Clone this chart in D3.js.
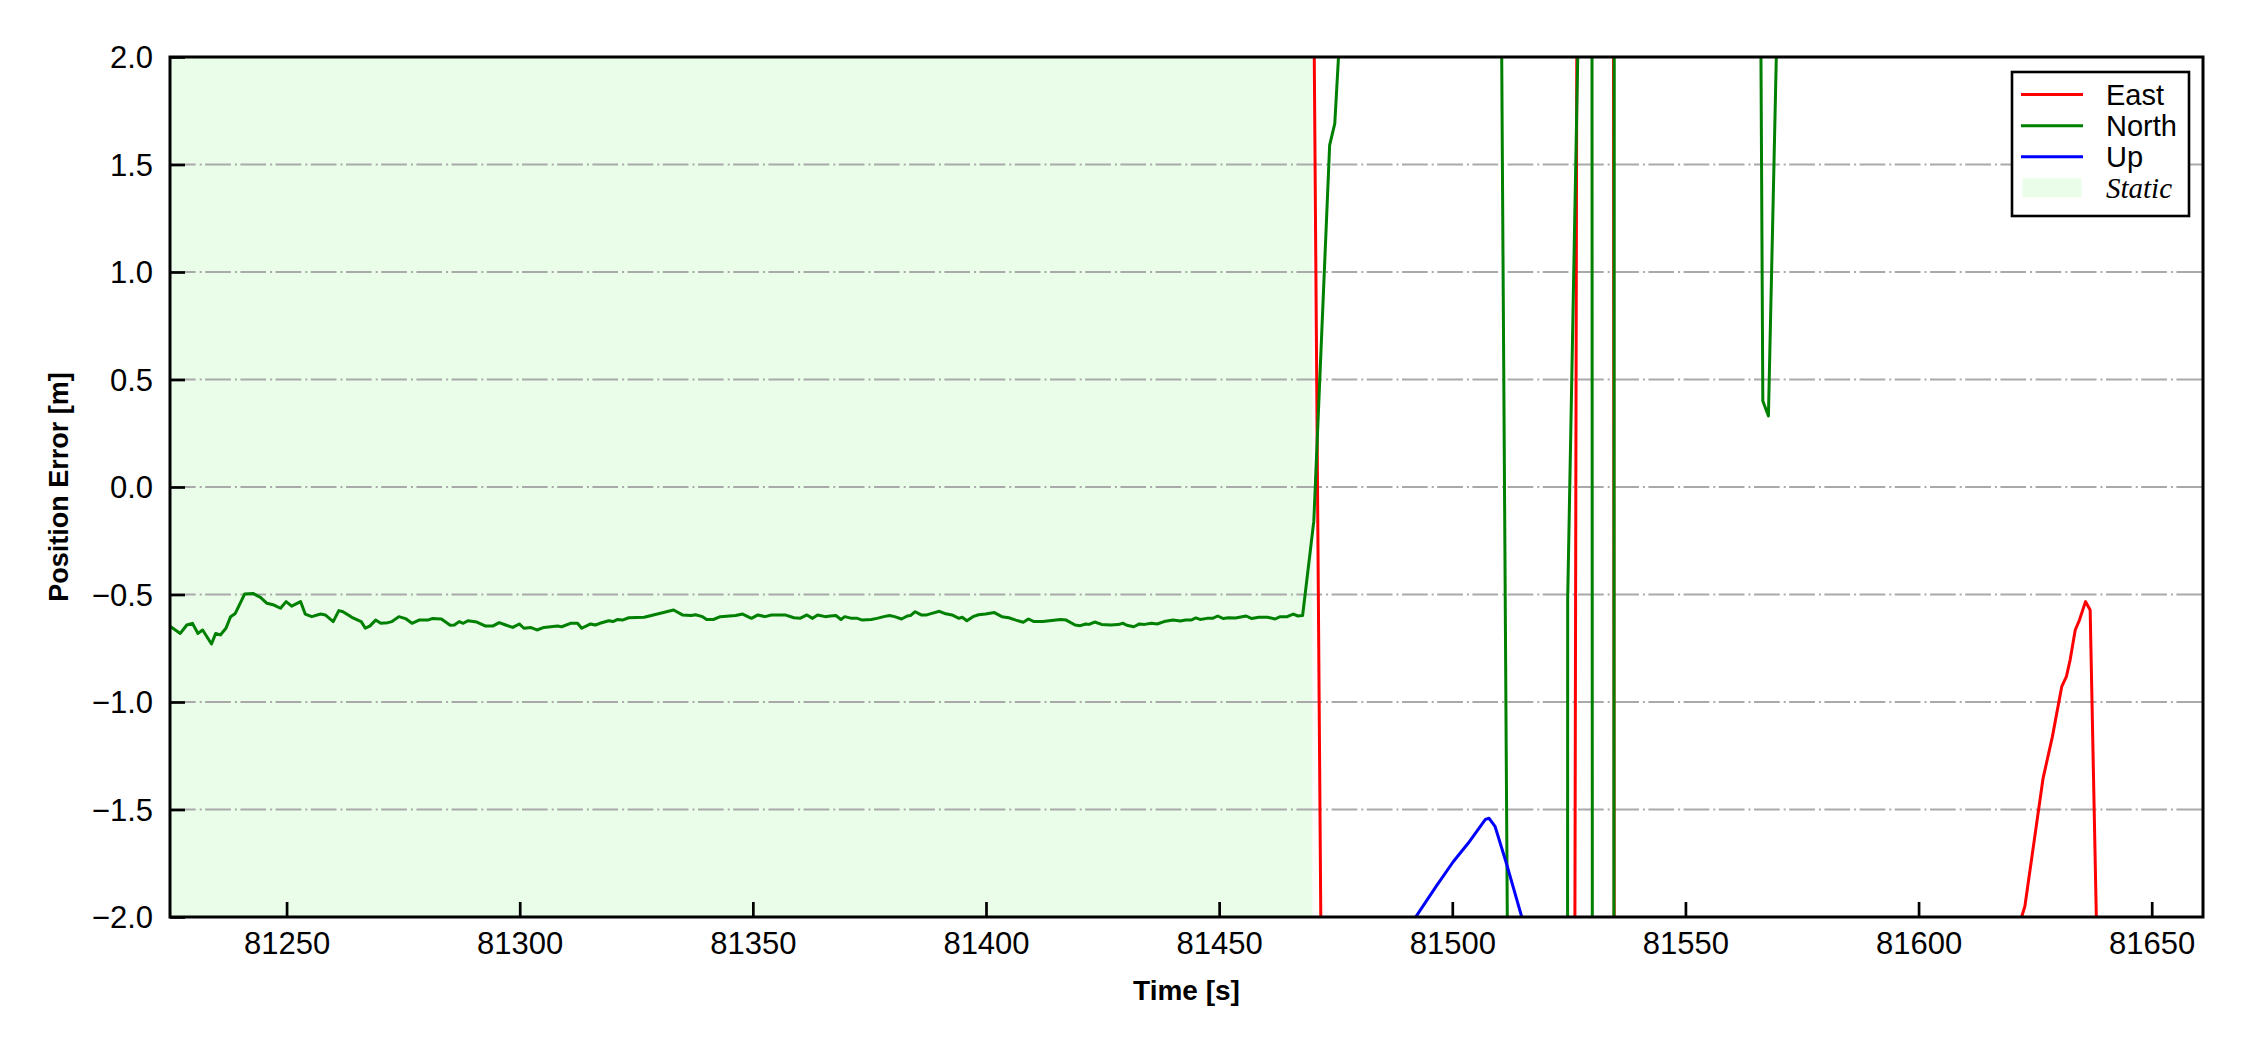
<!DOCTYPE html>
<html>
<head>
<meta charset="utf-8">
<script src="https://cdn.jsdelivr.net/npm/d3@7"></script>
<style>
  html, body { margin: 0; padding: 0; background: #ffffff; }
  svg { display: block; }
</style>
</head>
<body>
<svg id="chart" width="2250" height="1050"></svg>
<script>
// ---------------- data ----------------
const seriesNames = ["East", "North", "Up"];
const seriesColors = ["#ff0000", "#008000", "#0000ff"];
const staticLabel = "Static";
const staticRange = [81225, 81470];
const xDomain = [81225, 81661];
const yDomain = [-2, 2];
const xTicks = [81250, 81300, 81350, 81400, 81450, 81500, 81550, 81600, 81650];
const yTicks = [-2.0, -1.5, -1.0, -0.5, 0.0, 0.5, 1.0, 1.5, 2.0];
const xLabel = "Time [s]";
const yLabel = "Position Error [m]";

// [time s, error m]  (values outside ±2 are off-scale)
const eastData = [
  [81225, 5], [81470.0, 3.14], [81472.0, -2.57], [81526.2, -3.0], [81526.8, 3.0],
  [81534.55, 3.0], [81534.75, -3.0], [81620.0, -2.15], [81622.8, -1.95], [81626.7, -1.355],
  [81628.7, -1.161], [81630.7, -0.929], [81631.7, -0.882], [81632.5, -0.805], [81633.6, -0.665],
  [81634.5, -0.619], [81635.8, -0.533], [81636.8, -0.572], [81638.4, -2.3], [81661, -3]
];

const northData = [
  [81225.0,-0.647],[81227.2,-0.681],[81228.6,-0.642],[81229.8,-0.634],[81231.0,-0.681],[81232.0,-0.665],
  [81233.9,-0.730],[81234.8,-0.681],[81235.8,-0.688],[81237.0,-0.657],[81238.0,-0.603],[81239.0,-0.588],
  [81241.0,-0.498],[81242.8,-0.495],[81244.4,-0.513],[81245.8,-0.541],[81247.3,-0.549],[81248.7,-0.564],
  [81249.9,-0.533],[81251.1,-0.554],[81253.0,-0.533],[81254.0,-0.591],[81255.4,-0.603],[81257.3,-0.591],
  [81258.3,-0.595],[81260.0,-0.626],[81261.2,-0.575],[81262.1,-0.580],[81264.0,-0.606],[81266.0,-0.626],
  [81266.9,-0.657],[81267.9,-0.646],[81269.1,-0.619],[81270.2,-0.634],[81271.7,-0.631],[81272.6,-0.626],
  [81274.1,-0.603],[81275.5,-0.612],[81276.9,-0.634],[81278.4,-0.619],[81280.3,-0.619],[81281.2,-0.612],
  [81283.2,-0.614],[81285.1,-0.643],[81286.0,-0.642],[81287.0,-0.626],[81287.9,-0.634],[81288.9,-0.622],
  [81290.8,-0.628],[81292.7,-0.647],[81294.2,-0.647],[81295.6,-0.631],[81297.0,-0.642],[81298.5,-0.653],
  [81299.9,-0.637],[81300.9,-0.657],[81302.3,-0.653],[81303.7,-0.665],[81305.2,-0.653],[81308.1,-0.647],
  [81309.0,-0.650],[81310.9,-0.634],[81312.4,-0.634],[81313.3,-0.657],[81315.2,-0.637],[81316.2,-0.642],
  [81317.2,-0.634],[81319.1,-0.622],[81320.0,-0.626],[81321.0,-0.616],[81322.0,-0.619],[81323.4,-0.608],
  [81326.7,-0.606],[81333.0,-0.572],[81334.9,-0.595],[81336.8,-0.598],[81337.7,-0.594],[81339.2,-0.603],
  [81340.1,-0.616],[81341.6,-0.616],[81343.0,-0.603],[81346.3,-0.598],[81347.8,-0.591],[81349.7,-0.611],
  [81351.1,-0.595],[81352.6,-0.603],[81354.0,-0.595],[81356.9,-0.595],[81358.8,-0.608],
  [81360.1,-0.611],[81361.6,-0.595],[81362.8,-0.611],[81363.9,-0.595],[81365.5,-0.603],[81366.6,-0.600],
  [81367.8,-0.598],[81368.9,-0.616],[81369.7,-0.603],[81371.2,-0.611],[81372.4,-0.611],[81373.5,-0.619],
  [81375.4,-0.616],[81376.6,-0.611],[81378.1,-0.603],[81379.3,-0.598],[81380.4,-0.603],[81381.9,-0.614],
  [81383.1,-0.600],[81383.8,-0.598],[81384.8,-0.580],[81386.1,-0.595],[81387.3,-0.595],[81388.4,-0.588],
  [81390.0,-0.578],[81391.1,-0.588],[81392.7,-0.595],[81394.2,-0.611],[81394.9,-0.606],[81395.9,-0.622],
  [81397.2,-0.603],[81398.4,-0.594],[81399.9,-0.591],[81401.8,-0.584],[81403.4,-0.603],[81404.9,-0.608],
  [81406.4,-0.619],[81408.0,-0.629],[81409.1,-0.614],[81410.3,-0.626],[81412.2,-0.626],[81416.0,-0.616],
  [81417.2,-0.619],[81419.1,-0.642],[81420.2,-0.645],[81421.4,-0.637],[81422.1,-0.639],[81423.3,-0.628],
  [81424.8,-0.639],[81426.7,-0.642],[81428.3,-0.640],[81429.4,-0.634],[81430.2,-0.643],[81431.7,-0.650],
  [81432.9,-0.637],[81434.0,-0.639],[81435.5,-0.634],[81436.7,-0.637],[81438.2,-0.626],[81440.1,-0.619],
  [81441.7,-0.623],[81442.8,-0.619],[81444.0,-0.619],[81445.0,-0.609],[81445.9,-0.616],[81447.4,-0.611],
  [81448.6,-0.611],[81449.7,-0.600],[81450.9,-0.612],[81452.0,-0.608],[81453.5,-0.609],[81455.8,-0.600],
  [81457.0,-0.612],[81458.5,-0.606],[81460.4,-0.606],[81462.0,-0.614],[81463.1,-0.603],[81464.6,-0.603],
  [81465.9,-0.591],[81466.9,-0.600],[81467.9,-0.598],
  [81470.3,-0.16],[81473.7,1.59],[81474.8,1.69],[81476.5,2.35],[81510.3,3.0],[81512.1,-3.0],
  [81524.7,-4.0],[81524.75,-0.52],[81527.3,2.46],[81529.95,3.0],[81530.05,-3.0],[81534.65,-3.0],
  [81534.75,3.0],[81565.8,3.6],[81566.6,0.40],[81567.8,0.33],[81570.0,2.5],[81661,3.0]
];

const upData = [
  [81225, -3], [81490.0, -2.07], [81496.5, -1.859], [81500.2, -1.743], [81503.4, -1.657],
  [81507.1, -1.546], [81507.9, -1.541], [81509.2, -1.580], [81511.6, -1.750], [81516.0, -2.083],
  [81661, -3]
];

const seriesData = [eastData, northData, upData];

// ---------------- layout ----------------
const W = 2250, H = 1050;
const margin = { left: 170, right: 47, top: 57, bottom: 133 };
const plotW = W - margin.left - margin.right;
const plotH = H - margin.top - margin.bottom;

const svg = d3.select("#chart");
const x = d3.scaleLinear().domain(xDomain).range([0, plotW]);
const y = d3.scaleLinear().domain(yDomain).range([plotH, 0]);

const g = svg.append("g").attr("transform", `translate(${margin.left},${margin.top})`);

svg.append("defs").append("clipPath").attr("id", "plotClip")
  .append("rect").attr("x", 0).attr("y", 0).attr("width", plotW).attr("height", plotH);

// static shading
g.append("rect")
  .attr("x", x(staticRange[0]))
  .attr("y", 0)
  .attr("width", x(staticRange[1]) - x(staticRange[0]))
  .attr("height", plotH)
  .attr("fill", "#e9fde9");

// grid
g.append("g").selectAll("line")
  .data(yTicks.filter(v => v > yDomain[0] && v < yDomain[1]))
  .join("line")
  .attr("x1", 0).attr("x2", plotW)
  .attr("y1", d => y(d)).attr("y2", d => y(d))
  .attr("stroke", "#a9a9a9")
  .attr("stroke-width", 2.2)
  .attr("stroke-dasharray", "25.7 4 2 3.5");

// series lines
const line = d3.line().x(d => x(d[0])).y(d => y(d[1]));
const lines = g.append("g").attr("clip-path", "url(#plotClip)");
seriesData.forEach((data, i) => {
  lines.append("path")
    .datum(data)
    .attr("d", line)
    .attr("fill", "none")
    .attr("stroke", seriesColors[i])
    .attr("stroke-width", 3)
    .attr("stroke-linejoin", "round");
});

// axes
const fontTick = "'Liberation Sans', Arial, sans-serif";
const xAxis = d3.axisBottom(x).tickValues(xTicks).tickSize(-15).tickPadding(15).tickFormat(d3.format("d"));
const yAxis = d3.axisLeft(y).tickValues(yTicks).tickSize(-15).tickPadding(17)
  .tickFormat(d => d3.format(".1f")(d).replace("-", "\u2212"));

const xg = g.append("g").attr("transform", `translate(0,${plotH})`).call(xAxis);
const yg = g.append("g").call(yAxis);
[xg, yg].forEach(a => {
  a.select(".domain").remove();
  a.selectAll(".tick line").attr("stroke", "#000").attr("stroke-width", 2.7);
  a.selectAll(".tick text").attr("fill", "#000").attr("font-family", fontTick).attr("font-size", 31);
});
xg.selectAll(".tick text").attr("dy", "0.71em");
yg.selectAll(".tick text").attr("dy", "0.35em");

// frame
g.append("rect")
  .attr("x", 0).attr("y", 0).attr("width", plotW).attr("height", plotH)
  .attr("fill", "none").attr("stroke", "#000").attr("stroke-width", 3);

// axis labels
svg.append("text")
  .attr("x", margin.left + plotW / 2)
  .attr("y", 1000)
  .attr("text-anchor", "middle")
  .attr("font-family", fontTick)
  .attr("font-weight", "bold")
  .attr("font-size", 28)
  .text(xLabel);

svg.append("text")
  .attr("transform", `translate(68,${margin.top + plotH / 2}) rotate(-90)`)
  .attr("text-anchor", "middle")
  .attr("font-family", fontTick)
  .attr("font-weight", "bold")
  .attr("font-size", 27)
  .text(yLabel);

// legend
const legX = 2012 - margin.left, legY = 72 - margin.top;
const leg = g.append("g").attr("transform", `translate(${legX},${legY})`);
leg.append("rect").attr("x", 0).attr("y", 0).attr("width", 177).attr("height", 144)
  .attr("fill", "#fff").attr("stroke", "#000").attr("stroke-width", 2.6);
const rowY = [22.5, 53.7, 84.8, 115.8];
seriesNames.forEach((name, i) => {
  leg.append("line").attr("x1", 9).attr("x2", 71)
    .attr("y1", rowY[i]).attr("y2", rowY[i])
    .attr("stroke", seriesColors[i]).attr("stroke-width", 3);
  leg.append("text").attr("x", 94).attr("y", rowY[i]).attr("dy", "0.35em")
    .attr("font-family", fontTick).attr("font-size", 29).text(name);
});
leg.append("rect").attr("x", 10.5).attr("y", rowY[3] - 9.5).attr("width", 59).attr("height", 19)
  .attr("fill", "#e9fde9");
leg.append("text").attr("x", 94).attr("y", rowY[3]).attr("dy", "0.35em")
  .attr("font-family", "'Liberation Serif', 'Times New Roman', serif")
  .attr("font-style", "italic").attr("font-size", 29).text(staticLabel);
</script>
</body>
</html>
